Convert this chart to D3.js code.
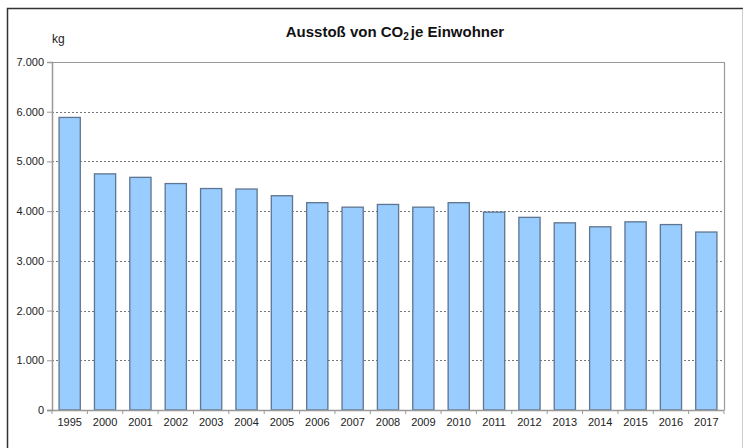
<!DOCTYPE html>
<html><head><meta charset="utf-8">
<script src="https://cdn.jsdelivr.net/npm/d3@7"></script>
<style>body{margin:0;background:#fff}svg{display:block}text{font-family:"Liberation Sans",Arial,sans-serif}</style>
</head><body>
<script>
const years = ["1995","2000","2001","2002","2003","2004","2005","2006","2007","2008","2009","2010","2011","2012","2013","2014","2015","2016","2017"];
const co2 = [5885,4750,4680,4555,4455,4445,4310,4170,4080,4135,4080,4170,3980,3875,3765,3685,3785,3730,3580];
const yTicks = [0,1000,2000,3000,4000,5000,6000,7000];

const W=743,H=448;
const m={l:52,t:62,r:724,b:410};
const svg=d3.select("body").append("svg").attr("width",W).attr("height",H);
svg.append("rect").attr("width",W).attr("height",H).attr("fill","#fff");
// outer frame
svg.append("path").attr("d",`M7.5,${H+2}V8.5H${W+2}`).attr("fill","none").attr("stroke","#333").attr("stroke-width",1.5);
svg.append("line").attr("x1",742.5).attr("x2",742.5).attr("y1",9).attr("y2",H).attr("stroke","#ccc");

const x=d3.scaleBand().domain(years).range([m.l,m.r]).paddingInner(0.4).paddingOuter(0.2);
const y=d3.scaleLinear().domain([0,7000]).range([m.b,m.t]);
const fmt=d=>d3.format(",")(d).replace(/,/g,".");

// gridlines
svg.append("g").selectAll("line").data(yTicks.filter(d=>d>0&&d<7000)).join("line")
 .attr("x1",m.l).attr("x2",m.r).attr("y1",d=>Math.round(y(d))+0.5).attr("y2",d=>Math.round(y(d))+0.5)
 .attr("stroke","#777").attr("stroke-dasharray","2,2").attr("stroke-width",1);
// plot border top/right
svg.append("path").attr("d",`M${m.l},${m.t+0.5}H${m.r+0.5}V${m.b}`).attr("fill","none").attr("stroke","#999").attr("stroke-width",1.2);

// bars
svg.append("g").selectAll("rect").data(years).join("rect")
 .attr("x",(d)=>x(d)).attr("width",x.bandwidth())
 .attr("y",(d,i)=>y(co2[i])).attr("height",(d,i)=>m.b-y(co2[i]))
 .attr("fill","#99ccff").attr("stroke","#5f7590").attr("stroke-width",1.3);

// y axis
const ya=d3.axisLeft(y).tickValues(yTicks).tickFormat(fmt).tickSize(5).tickPadding(3);
const gy=svg.append("g").attr("transform",`translate(${m.l},0)`).call(ya);
gy.select(".domain").attr("stroke","#999").attr("stroke-width",1.5);
gy.selectAll(".tick line").attr("stroke","#999");
gy.selectAll("text").attr("fill","#222").attr("font-size",11);

// x axis
const gx=svg.append("g").attr("transform",`translate(0,${m.b})`).call(d3.axisBottom(x).tickSize(0).tickPadding(8));
gx.select(".domain").remove();
gx.selectAll("text").attr("fill","#222").attr("font-size",11);
const bounds=d3.range(years.length+1).map(i=>m.l+i*(m.r-m.l)/years.length);
svg.append("g").selectAll("line").data(bounds).join("line")
 .attr("x1",d=>d).attr("x2",d=>d).attr("y1",m.b).attr("y2",m.b+4).attr("stroke","#999");
svg.append("line").attr("x1",m.l-5).attr("x2",m.r).attr("y1",m.b+0.5).attr("y2",m.b+0.5).attr("stroke","#999").attr("stroke-width",1.5);

// labels
svg.append("text").attr("x",52).attr("y",43).attr("font-size",12).attr("fill","#222").text("kg");
const t=svg.append("text").attr("x",395).attr("y",37).attr("text-anchor","middle").attr("font-size",15).attr("font-weight","bold").attr("fill","#111");
t.append("tspan").text("Ausstoß von CO");
t.append("tspan").attr("font-size",10).attr("dy",3).text("2");
t.append("tspan").attr("dy",-3).text("je Einwohner").attr("dx",2);
</script>
</body></html>
